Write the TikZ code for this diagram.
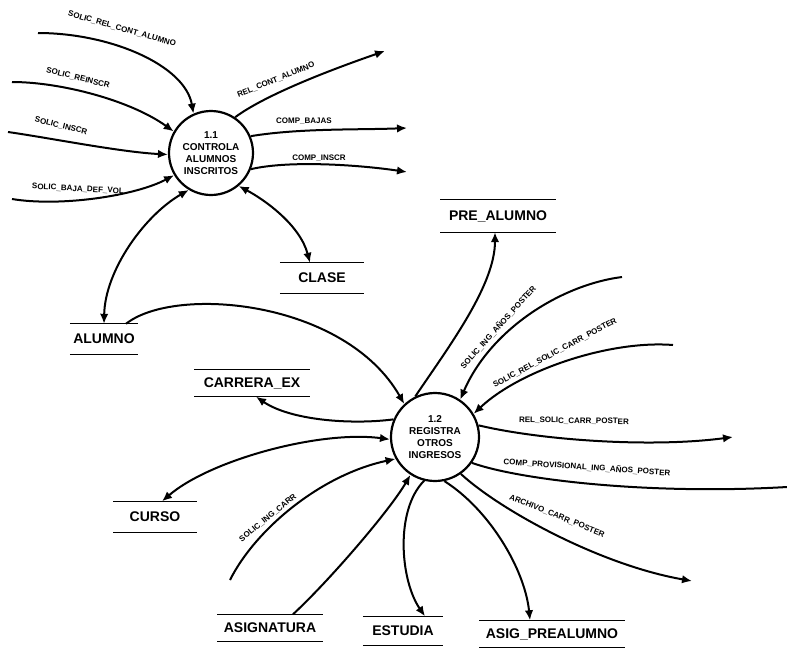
\documentclass[tikz,border=0pt]{standalone}
\usepackage{fontspec}
\setmainfont{Liberation Sans}
\usetikzlibrary{arrows.meta}

\begin{document}
\begin{tikzpicture}[x=1pt,y=-1pt,
  flow/.style={line width=2pt, -{Latex[length=10pt,width=8.5pt]}},
  biflow/.style={line width=2pt, {Latex[length=10pt,width=8.5pt]}-{Latex[length=10pt,width=8.5pt]}},
  plainflow/.style={line width=2pt},
  proc/.style={circle, draw, line width=2.2pt, inner sep=0pt, align=center,
    font=\fontsize{10}{12.2}\selectfont\bfseries},
  store/.style={inner sep=0pt, font=\fontsize{14}{16}\selectfont\bfseries},
  storeline/.style={line width=1.3pt},
  lbl/.style={inner sep=0pt, font=\fontsize{8}{9}\selectfont\bfseries},
]
\useasboundingbox[fill=white] (0,0) rectangle (787,651);

% processes
\node[proc, minimum size=84pt] (p11) at (211,153) {1.1\\CONTROLA\\ALUMNOS\\INSCRITOS};
\node[proc, minimum size=88pt] (p12) at (435,437) {1.2\\REGISTRA\\OTROS\\INGRESOS};

% data stores
\node[store, minimum width=68pt,  minimum height=30pt] (alumno)     at (104,339) {ALUMNO};
\node[store, minimum width=84pt,  minimum height=30pt] (clase)      at (322,278) {CLASE};
\node[store, minimum width=115pt, minimum height=32pt] (prealumno)  at (498,216) {PRE\_ALUMNO};
\node[store, minimum width=115pt, minimum height=27pt] (carrera)    at (252,383) {CARRERA\_EX};
\node[store, minimum width=83pt,  minimum height=31pt] (curso)      at (155,517) {CURSO};
\node[store, minimum width=105pt, minimum height=27pt] (asignatura) at (270,628) {ASIGNATURA};
\node[store, minimum width=80pt,  minimum height=29pt] (estudia)    at (403,631) {ESTUDIA};
\node[store, minimum width=145pt, minimum height=27pt] (asigpre)    at (552,634) {ASIG\_PREALUMNO};
\foreach \s in {alumno,clase,prealumno,carrera,curso,asignatura,estudia,asigpre}
  \draw[storeline] (\s.north west) -- (\s.north east) (\s.south west) -- (\s.south east);

% free ends of external flows
\coordinate (a1) at (38,33);
\coordinate (a2) at (12,82);
\coordinate (a3) at (8,132);
\coordinate (a4) at (12,199);
\coordinate (b1) at (385,51);
\coordinate (b2) at (407,128);
\coordinate (b3) at (407,172);
\coordinate (c1) at (622,277);
\coordinate (c2) at (673,345);
\coordinate (c3) at (733,437);
\coordinate (c4) at (787,487);
\coordinate (c5) at (692,581);
\coordinate (c6) at (230,580);

% flows of 1.1
\draw[flow] (a1) .. controls (110,33) and (185,65) .. (p11.114);
\draw[flow] (a2) .. controls (60,82) and (130,100) .. (p11.150);
\draw[flow] (a3) .. controls (50,138) and (120,152) .. (p11.182);
\draw[flow] (a4) .. controls (60,207) and (135,196) .. (p11.211);
\draw[flow] (p11.56) .. controls (265,95) and (330,70) .. (b1);
\draw[flow] (p11.23) .. controls (300,128) and (360,130) .. (b2);
\draw[flow] (p11.-22) .. controls (290,160) and (360,165) .. (b3);
\draw[biflow] (alumno.north) .. controls (105,270) and (145,215) .. (p11.239);
\draw[biflow] (p11.310) .. controls (265,200) and (300,225) .. ([xshift=-12pt]clase.north);

% flows of 1.2
\draw[flow] ([xshift=22pt]alumno.north) .. controls (175,285) and (345,300) .. (p12.133);
\draw[flow] (p12.116) .. controls (450,345) and (495,285) .. ([xshift=-3pt]prealumno.south);
\draw[flow] (c1) .. controls (560,285) and (490,330) .. (p12.56);
\draw[flow] (c2) .. controls (610,340) and (520,370) .. (p12.31);
\draw[flow] (p12.15) .. controls (540,440) and (650,448) .. (c3);
\draw[plainflow] (p12.325) .. controls (520,480) and (650,495) .. (c4);
\draw[flow] (p12.305) .. controls (500,510) and (600,565) .. (c5);
\draw[flow] (p12.282) .. controls (490,510) and (525,570) .. ([xshift=-22pt]asigpre.north);
\draw[flow] (p12.256) .. controls (395,510) and (400,580) .. ([xshift=22pt]estudia.north);
\draw[flow] ([xshift=23pt]asignatura.north) .. controls (330,580) and (390,510) .. (p12.237);
\draw[flow] (c6) .. controls (255,530) and (320,475) .. (p12.209);
\draw[biflow] ([xshift=7pt]curso.north) .. controls (210,460) and (320,430) .. (p12.183);
\draw[flow] (p12.157) .. controls (350,425) and (290,420) .. ([xshift=4pt]carrera.south);

% flow labels
\node[lbl, rotate=-16] (l1) at (122,29) {SOLIC\_REL\_CONT\_ALUMNO};
\node[lbl, rotate=-14] (l2) at (78,78) {SOLIC\_REINSCR};
\node[lbl, rotate=-14] (l3) at (61,126) {SOLIC\_INSCR};
\node[lbl, rotate=-3]  (l4) at (78,189) {SOLIC\_BAJA\_DEF\_VOL};
\node[lbl, rotate=22]  (l5) at (276,80) {REL\_CONT\_ALUMNO};
\node[lbl] (l6) at (304,121) {COMP\_BAJAS};
\node[lbl] (l7) at (319,158) {COMP\_INSCR};
\node[lbl, rotate=48]  (l8) at (498,327) {SOLIC\_ING\_AÑOS\_POSTER};
\node[lbl, rotate=28]  (l9) at (555,353) {SOLIC\_REL\_SOLIC\_CARR\_POSTER};
\node[lbl, rotate=-1]  (l10) at (574,421) {REL\_SOLIC\_CARR\_POSTER};
\node[lbl, rotate=-4]  (l11) at (587,467) {COMP\_PROVISIONAL\_ING\_AÑOS\_POSTER};
\node[lbl, rotate=-22] (l12) at (557,516) {ARCHIVO\_CARR\_POSTER};
\node[lbl, rotate=39]  (l13) at (268,518) {SOLIC\_ING\_CARR};
\end{tikzpicture}
\end{document}
